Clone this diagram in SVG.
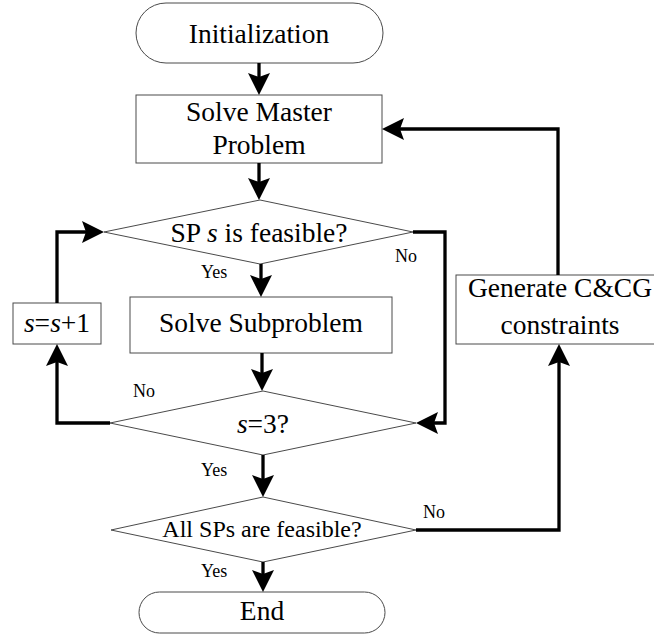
<svg xmlns="http://www.w3.org/2000/svg" width="654" height="637" viewBox="0 0 654 637">
  <defs>
    <marker id="arr" markerUnits="userSpaceOnUse" viewBox="-24 -12 38 24" refX="-10" refY="0" markerWidth="38" markerHeight="24" orient="auto" overflow="visible">
      <path d="M0,0 L-22,-11 L-18,0 L-22,11 Z" fill="#000"/>
    </marker>
  </defs>

  <g fill="#ffffff" stroke="#4a4a4a" stroke-width="1">
    <g id="n-init">
      <rect x="136" y="3" width="247" height="60" rx="30" ry="30"/>
      <text font-family="Liberation Serif" font-size="27.5" fill="#000" stroke="none" text-anchor="middle" x="259" y="43">Initialization</text>
    </g>
    <g id="n-master">
      <rect x="136" y="95" width="246" height="68"/>
      <text font-family="Liberation Serif" font-size="27.5" fill="#000" stroke="none" text-anchor="middle" x="259" y="121">Solve Master</text>
      <text font-family="Liberation Serif" font-size="27.5" fill="#000" stroke="none" text-anchor="middle" x="259" y="154">Problem</text>
    </g>
    <g id="n-spfeas">
      <polygon points="260,200 413,232 260,264 104,232"/>
      <text font-family="Liberation Serif" font-size="27.5" fill="#000" stroke="none" text-anchor="middle" x="259" y="242">SP <tspan font-style="italic">s</tspan> is feasible?</text>
    </g>
    <g id="n-sub">
      <rect x="130" y="297" width="262" height="56"/>
      <text font-family="Liberation Serif" font-size="27.5" fill="#000" stroke="none" text-anchor="middle" x="261" y="332">Solve Subproblem</text>
    </g>
    <g id="n-inc">
      <rect x="13" y="303" width="88" height="41"/>
      <text font-family="Liberation Serif" font-size="27.5" fill="#000" stroke="none" text-anchor="middle" x="57" y="332"><tspan font-style="italic">s</tspan>=<tspan font-style="italic">s</tspan>+1</text>
    </g>
    <g id="n-s3">
      <polygon points="263,391 416,423 263,455 110,423"/>
      <text font-family="Liberation Serif" font-size="27.5" fill="#000" stroke="none" text-anchor="middle" x="263" y="433"><tspan font-style="italic">s</tspan>=3?</text>
    </g>
    <g id="n-allfeas">
      <polygon points="263,497 416,530 263,562 111,530"/>
      <text font-family="Liberation Serif" font-size="24" fill="#000" stroke="none" text-anchor="middle" x="262" y="537">All SPs are feasible?</text>
    </g>
    <g id="n-end">
      <rect x="139" y="592" width="246" height="41" rx="20.5" ry="20.5"/>
      <text font-family="Liberation Serif" font-size="27.5" fill="#000" stroke="none" text-anchor="middle" x="262" y="620">End</text>
    </g>
    <g id="n-gen">
      <rect x="456" y="275" width="220" height="69"/>
      <text font-family="Liberation Serif" font-size="27.5" fill="#000" stroke="none" text-anchor="middle" x="560" y="297">Generate C&amp;CG</text>
      <text font-family="Liberation Serif" font-size="27.5" fill="#000" stroke="none" text-anchor="middle" x="560" y="334">constraints</text>
    </g>
  </g>

  <g id="connectors" fill="none" stroke="#000" stroke-width="3.3" stroke-linejoin="miter">
    <path d="M259,63 V85" marker-end="url(#arr)"/>
    <path d="M259,163 V190" marker-end="url(#arr)"/>
    <path d="M261,264 V287" marker-end="url(#arr)"/>
    <path d="M262,353 V381" marker-end="url(#arr)"/>
    <path d="M263,455 V487" marker-end="url(#arr)"/>
    <path d="M263,562 V582" marker-end="url(#arr)"/>
    <path d="M413,232 H445 V423 H426" marker-end="url(#arr)"/>
    <path d="M110,423 H57 V354" marker-end="url(#arr)"/>
    <path d="M57,303 V232 H94" marker-end="url(#arr)"/>
    <path d="M416,530 H559 V354" marker-end="url(#arr)"/>
    <path d="M558,275 V129 H392" marker-end="url(#arr)"/>
  </g>

  <g id="labels" fill="#000">
    <text font-family="Liberation Serif" font-size="18" x="201" y="278">Yes</text>
    <text font-family="Liberation Serif" font-size="18" x="395" y="262">No</text>
    <text font-family="Liberation Serif" font-size="18" x="133" y="397">No</text>
    <text font-family="Liberation Serif" font-size="18" x="201" y="476">Yes</text>
    <text font-family="Liberation Serif" font-size="18" x="423" y="518">No</text>
    <text font-family="Liberation Serif" font-size="18" x="201" y="577">Yes</text>
  </g>
</svg>
